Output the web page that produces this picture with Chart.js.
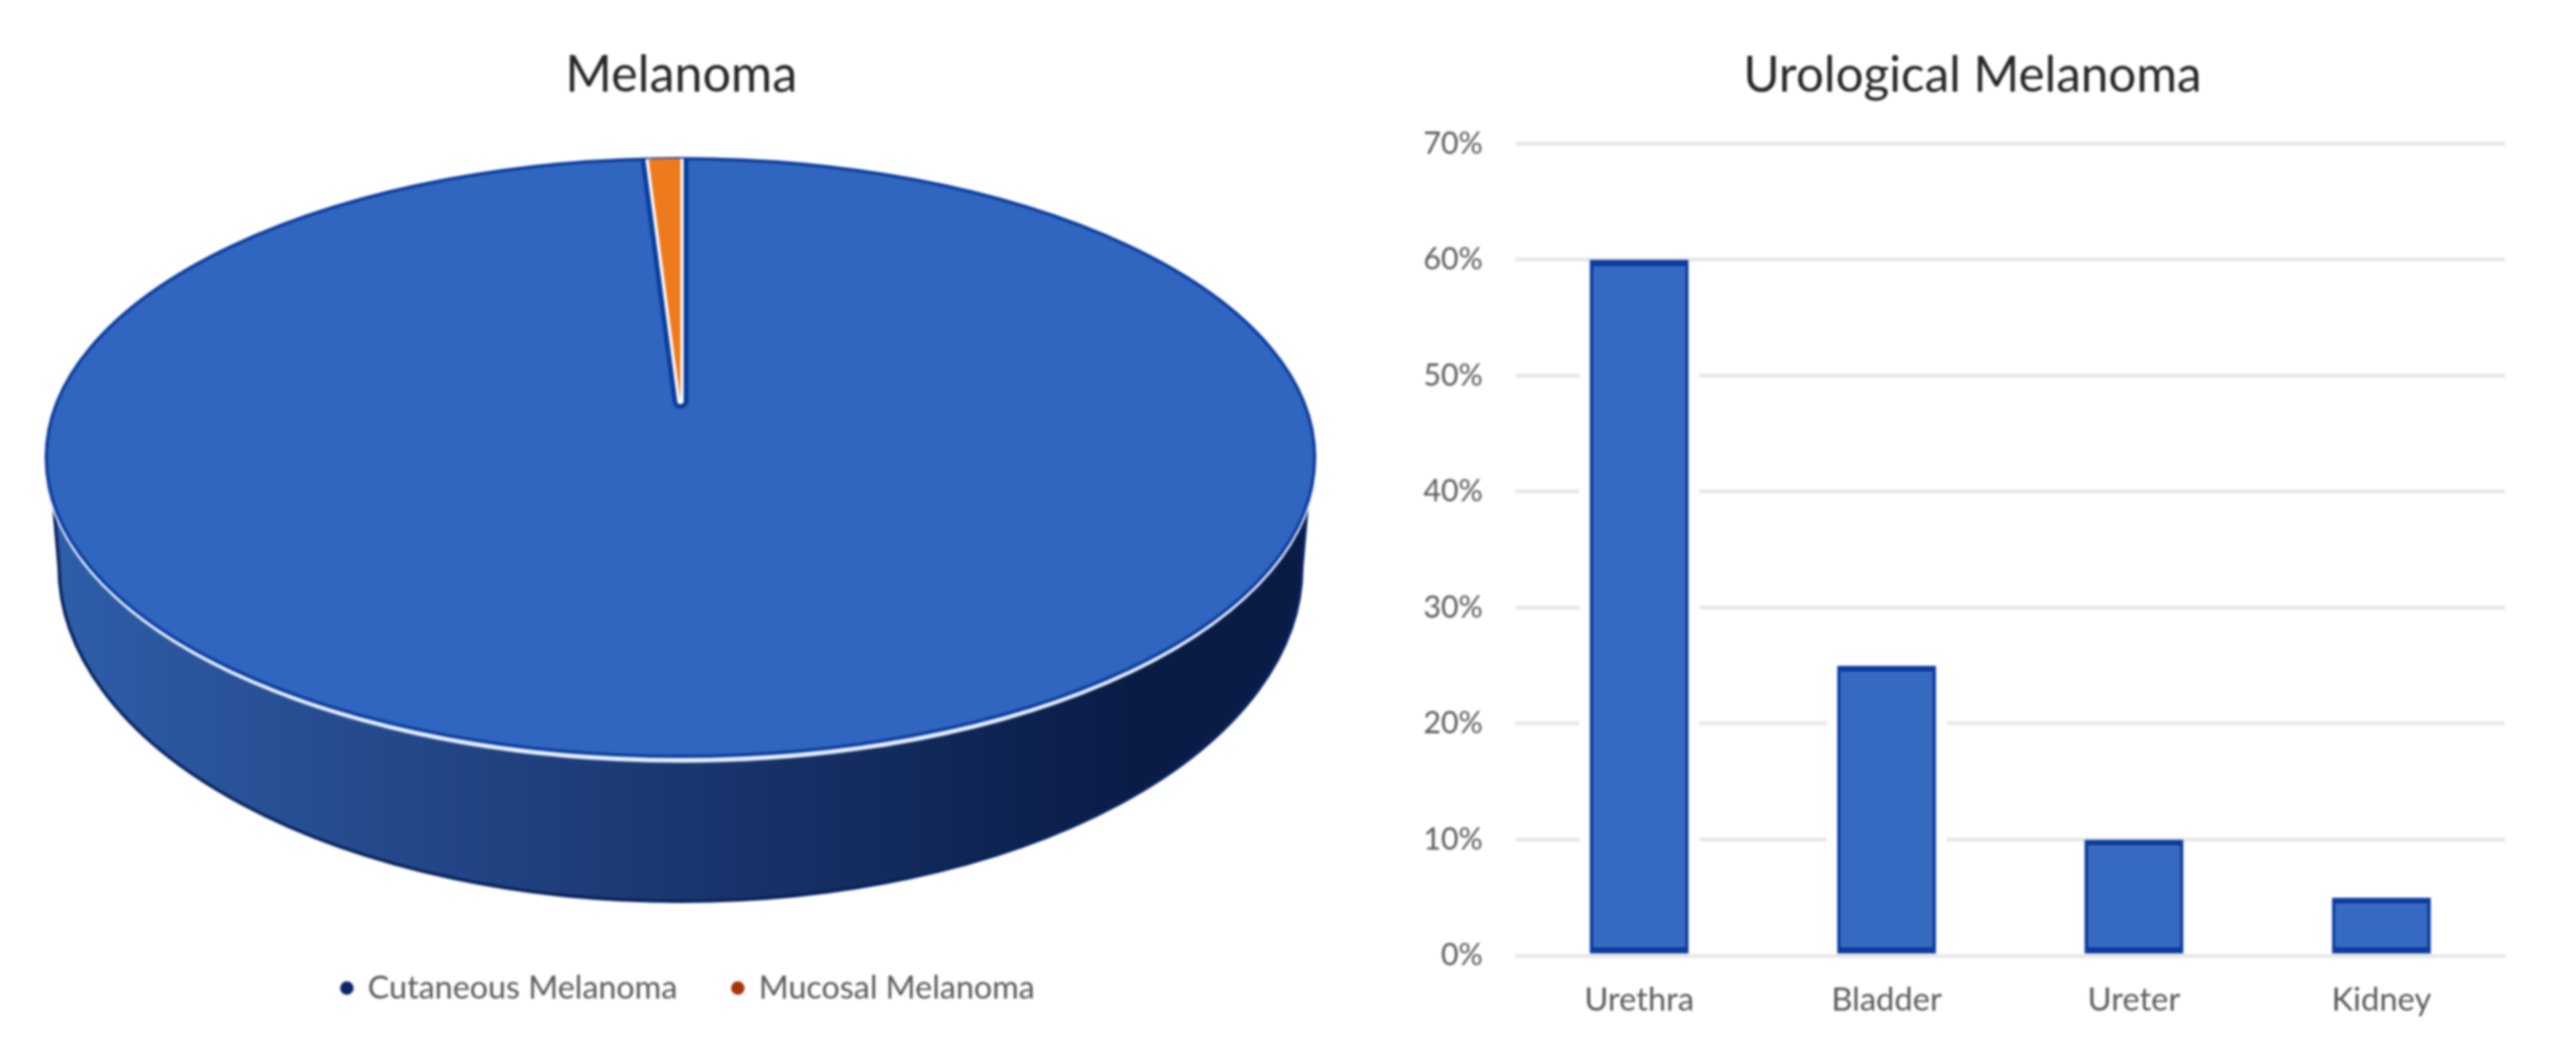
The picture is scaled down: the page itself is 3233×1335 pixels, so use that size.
<!DOCTYPE html>
<html>
<head>
<meta charset="utf-8">
<title>Melanoma</title>
<script src="https://cdn.jsdelivr.net/npm/chart.js@4"></script>
<style>
  html, body { margin: 0; background: #fff; overflow: hidden; }
  canvas { position: absolute; top: 0; filter: blur(1.5px); }
  #pie { left: 0; }
  #bar { left: 1717px; }
</style>
</head>
<body>
<canvas id="pie" width="1710" height="1335"></canvas>
<canvas id="bar" width="1516" height="1335"></canvas>
<script>
var pie_labels = ['Cutaneous Melanoma', 'Mucosal Melanoma'];
var pie_values = [99.2, 0.8];
var pie_colors = ['#3066bf', '#ee7a1c'];
var pie_legend_colors = ['#0a2468', '#a8340c'];

var bar_labels = ['Urethra', 'Bladder', 'Ureter', 'Kidney'];
var bar_values = [60, 25, 10, 5];

var text_font = 'Lato, "Open Sans", sans-serif';
var clr_text = '#595959';
var clr_title = '#262626';
var clr_edge = '#0b3c9e';

// where the tilted disc sits on the page
var disc = {cx: 854, cy: 574, rx: 796, ry: 375, apex_y: 503};
var side = {rx: 780, cy: 711, ry: 420};

function draw_side(ctx) {
  var grad = ctx.createLinearGradient(disc.cx - disc.rx, 0, disc.cx + disc.rx, 0);
  grad.addColorStop(0, '#2f5ea9');
  grad.addColorStop(0.5, '#1a3670');
  grad.addColorStop(0.85, '#0a1c46');
  grad.addColorStop(1, '#0a1c46');
  ctx.beginPath();
  ctx.moveTo(disc.cx - disc.rx + 4, disc.cy);
  ctx.ellipse(disc.cx, side.cy, side.rx, side.ry, 0, Math.PI, 0, true);
  ctx.lineTo(disc.cx + disc.rx - 4, disc.cy);
  ctx.closePath();
  ctx.fillStyle = grad;
  ctx.fill();
  ctx.strokeStyle = '#06225f';
  ctx.lineWidth = 4;
  ctx.stroke();

  // light rim under the front of the disc
  ctx.beginPath();
  ctx.ellipse(disc.cx, disc.cy, disc.rx, disc.ry + 4, 0, 0.1, Math.PI - 0.1);
  ctx.strokeStyle = '#e4efff';
  ctx.lineWidth = 8;
  ctx.stroke();
}

function wedge_edges(ctx, arc, color, width) {
  var top_y = disc.cy - disc.ry;
  var len = disc.apex_y - top_y;
  var x_a = disc.cx + disc.rx * Math.cos(arc.startAngle);
  var y_a = disc.apex_y + len * Math.sin(arc.startAngle);
  var x_b = disc.cx + disc.rx * Math.cos(arc.endAngle);
  var y_b = disc.apex_y + len * Math.sin(arc.endAngle);
  ctx.beginPath();
  ctx.moveTo(x_a, y_a);
  ctx.lineTo(disc.cx, disc.apex_y);
  ctx.lineTo(x_b, y_b);
  ctx.strokeStyle = color;
  ctx.lineWidth = width;
  ctx.lineJoin = 'round';
  ctx.stroke();
}

function draw_arc_on_disc(ctx, arc, center_y, y_radius) {
  ctx.save();
  ctx.translate(disc.cx, center_y);
  ctx.scale(disc.rx / arc.outerRadius, y_radius / arc.outerRadius);
  ctx.translate(-arc.x, -arc.y);
  arc.draw(ctx);
  ctx.restore();
}

var disc_plugin = {
  id: 'disc',
  afterLayout: function(chart) {
    // legend sits a little right of the title in the reference
    chart.legend.left += 9;
    chart.legend.right += 9;
  },
  beforeDatasetDraw: function(chart) {
    var ctx = chart.ctx;
    var arcs = chart.getDatasetMeta(0).data;
    ctx.save();
    draw_side(ctx);

    ctx.beginPath();
    ctx.ellipse(disc.cx, disc.cy, disc.rx, disc.ry, 0, 0, Math.PI * 2);
    ctx.fillStyle = pie_colors[0];
    ctx.fill();
    draw_arc_on_disc(ctx, arcs[0], disc.cy, disc.ry);

    ctx.beginPath();
    ctx.ellipse(disc.cx, disc.cy, disc.rx, disc.ry, 0, 0, Math.PI * 2);
    ctx.strokeStyle = clr_edge;
    ctx.lineWidth = 4;
    ctx.stroke();

    wedge_edges(ctx, arcs[1], clr_edge, 20);
    wedge_edges(ctx, arcs[1], '#ffffff', 8);
    draw_arc_on_disc(ctx, arcs[1], disc.apex_y, disc.apex_y - (disc.cy - disc.ry));
    ctx.restore();
    return false;
  }
};

new Chart(document.getElementById('pie'), {
  type: 'pie',
  data: {
    labels: pie_labels,
    datasets: [{
      data: pie_values,
      backgroundColor: pie_colors,
      borderWidth: 0
    }]
  },
  options: {
    responsive: false,
    animation: false,
    layout: {padding: {bottom: 65}},
    plugins: {
      tooltip: {enabled: false},
      title: {
        display: true,
        text: 'Melanoma',
        color: clr_title,
        font: {family: text_font, size: 63, weight: 'normal'},
        padding: {top: 57, bottom: 48}
      },
      legend: {
        position: 'bottom',
        labels: {
          usePointStyle: true,
          pointStyle: 'circle',
          boxHeight: 12,
          boxWidth: 12,
          padding: 70,
          color: clr_text,
          font: {family: text_font, size: 40.5},
          generateLabels: function() {
            return pie_labels.map(function(label, i) {
              return {text: label, fillStyle: pie_legend_colors[i], strokeStyle: pie_legend_colors[i], lineWidth: 0, pointStyle: 'circle', fontColor: clr_text, index: i};
            });
          }
        }
      }
    }
  },
  plugins: [disc_plugin]
});

var bar_plugin = {
  id: 'bar_extras',
  afterLayout: function(chart) {
    // title is centred left of the plot in the reference
    chart.titleBlock.left += 90;
  },
  // the gridlines stop short of the bars in the reference
  beforeDatasetsDraw: function(chart) {
    var ctx = chart.ctx;
    var base = chart.scales.y.getPixelForValue(0);
    ctx.save();
    ctx.fillStyle = '#ffffff';
    chart.getDatasetMeta(0).data.forEach(function(bar) {
      ctx.fillRect(bar.x - bar.width / 2 - 13, bar.y + 6, bar.width + 26, base - bar.y - 16);
    });
    ctx.restore();
  }
};

new Chart(document.getElementById('bar'), {
  type: 'bar',
  data: {
    labels: bar_labels,
    datasets: [{
      data: bar_values,
      backgroundColor: '#3569c2',
      borderColor: clr_edge,
      borderWidth: {top: 8, bottom: 9, left: 5, right: 5},
      borderSkipped: false,
      barPercentage: 0.4,
      categoryPercentage: 1
    }]
  },
  options: {
    responsive: false,
    animation: false,
    layout: {padding: {right: 89, bottom: 46}},
    plugins: {
      legend: {display: false},
      tooltip: {enabled: false},
      title: {
        display: true,
        text: 'Urological Melanoma',
        color: clr_title,
        font: {family: text_font, size: 62, weight: 'normal'},
        padding: {top: 58, bottom: 48}
      }
    },
    scales: {
      x: {
        afterFit: function(scale) { scale.height = 90; },
        grid: {display: false, drawTicks: false},
        border: {display: false},
        ticks: {color: clr_text, padding: 31, maxRotation: 0, font: {family: text_font, size: 41}}
      },
      y: {
        min: 0,
        max: 70,
        afterFit: function(scale) { scale.width = 185; },
        grid: {color: '#e8e8e8', lineWidth: 5, drawTicks: false},
        border: {display: false},
        ticks: {
          stepSize: 10,
          padding: 41,
          color: clr_text,
          font: {family: text_font, size: 38},
          callback: function(v) { return v + '%'; }
        }
      }
    }
  },
  plugins: [bar_plugin]
});
</script>
</body>
</html>
